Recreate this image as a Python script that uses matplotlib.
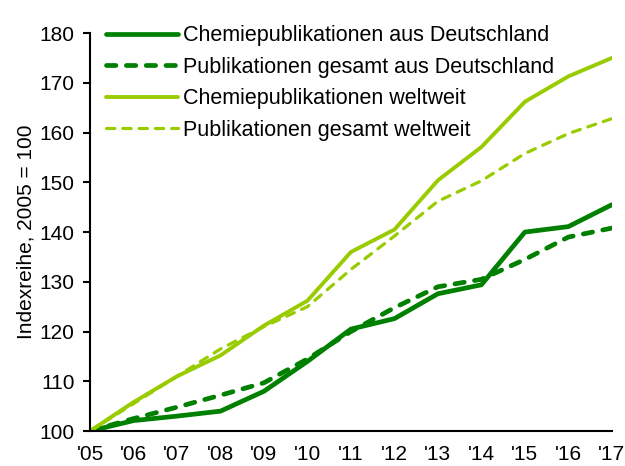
import matplotlib
matplotlib.use("Agg")
import matplotlib.pyplot as plt

plt.rcParams['font.family'] = ['Liberation Sans', 'DejaVu Sans']

years = ["'05", "'06", "'07", "'08", "'09", "'10", "'11", "'12", "'13", "'14", "'15", "'16", "'17"]
chem_de = [100, 102.1, 103, 104, 108, 114, 120.5, 122.6, 127.6, 129.4, 140, 141.1, 145.5]
pub_de = [100, 102.5, 104.8, 107.2, 109.7, 114.5, 120, 124.8, 129, 130.5, 134.5, 139, 140.8]
chem_world = [100, 105.8, 111, 115.2, 121.2, 126.2, 136, 140.5, 150.4, 157.1, 166.2, 171.3, 175]
pub_world = [100, 105.5, 111, 116.5, 121, 125, 132.5, 139.2, 146.2, 150.3, 155.8, 159.8, 162.8]

labels = ["Chemiepublikationen aus Deutschland",
          "Publikationen gesamt aus Deutschland",
          "Chemiepublikationen weltweit",
          "Publikationen gesamt weltweit"]

dark = '#008000'
light = '#99cc00'

fig = plt.figure(figsize=(6.25, 4.66), dpi=100)
ax = fig.add_axes([0.144, 0.075, 0.835, 0.854])
x = list(range(len(years)))
ax.plot(x, chem_de, color=dark, lw=3.4, label=labels[0],
        solid_capstyle='round', solid_joinstyle='round')
ax.plot(x, pub_de, color=dark, lw=3.4, ls=(0, (2.0, 2.2)), label=labels[1],
        dash_capstyle='round', dash_joinstyle='round')
ax.plot(x, chem_world, color=light, lw=2.8, label=labels[2],
        solid_capstyle='round', solid_joinstyle='round')
ax.plot(x, pub_world, color=light, lw=2.3, ls=(0, (2.6, 2.5)), label=labels[3],
        dash_capstyle='round', dash_joinstyle='round')

ax.set_xlim(0, len(years) - 1)
ax.set_ylim(100, 180)
ax.set_yticks(range(100, 181, 10))
ax.set_xticks(x)
ax.set_xticklabels(years)
ax.tick_params(axis='x', length=0, pad=10, labelsize=15)
ax.tick_params(axis='y', length=5, width=1.5, direction='out', labelsize=15, pad=6)
for s in ['top', 'right']:
    ax.spines[s].set_visible(False)
for s in ['left', 'bottom']:
    ax.spines[s].set_linewidth(1.5)
    ax.spines[s].set_color('black')
ax.set_ylabel("Indexreihe, 2005 = 100", fontsize=15, labelpad=3)

leg = fig.legend(loc='upper left', bbox_to_anchor=(0.17, 0.946), frameon=False,
                 fontsize=15.5, handlelength=3.35, handletextpad=0.23, labelspacing=0.49,
                 borderaxespad=0, borderpad=0)
fig.savefig('out.png', dpi=100)
